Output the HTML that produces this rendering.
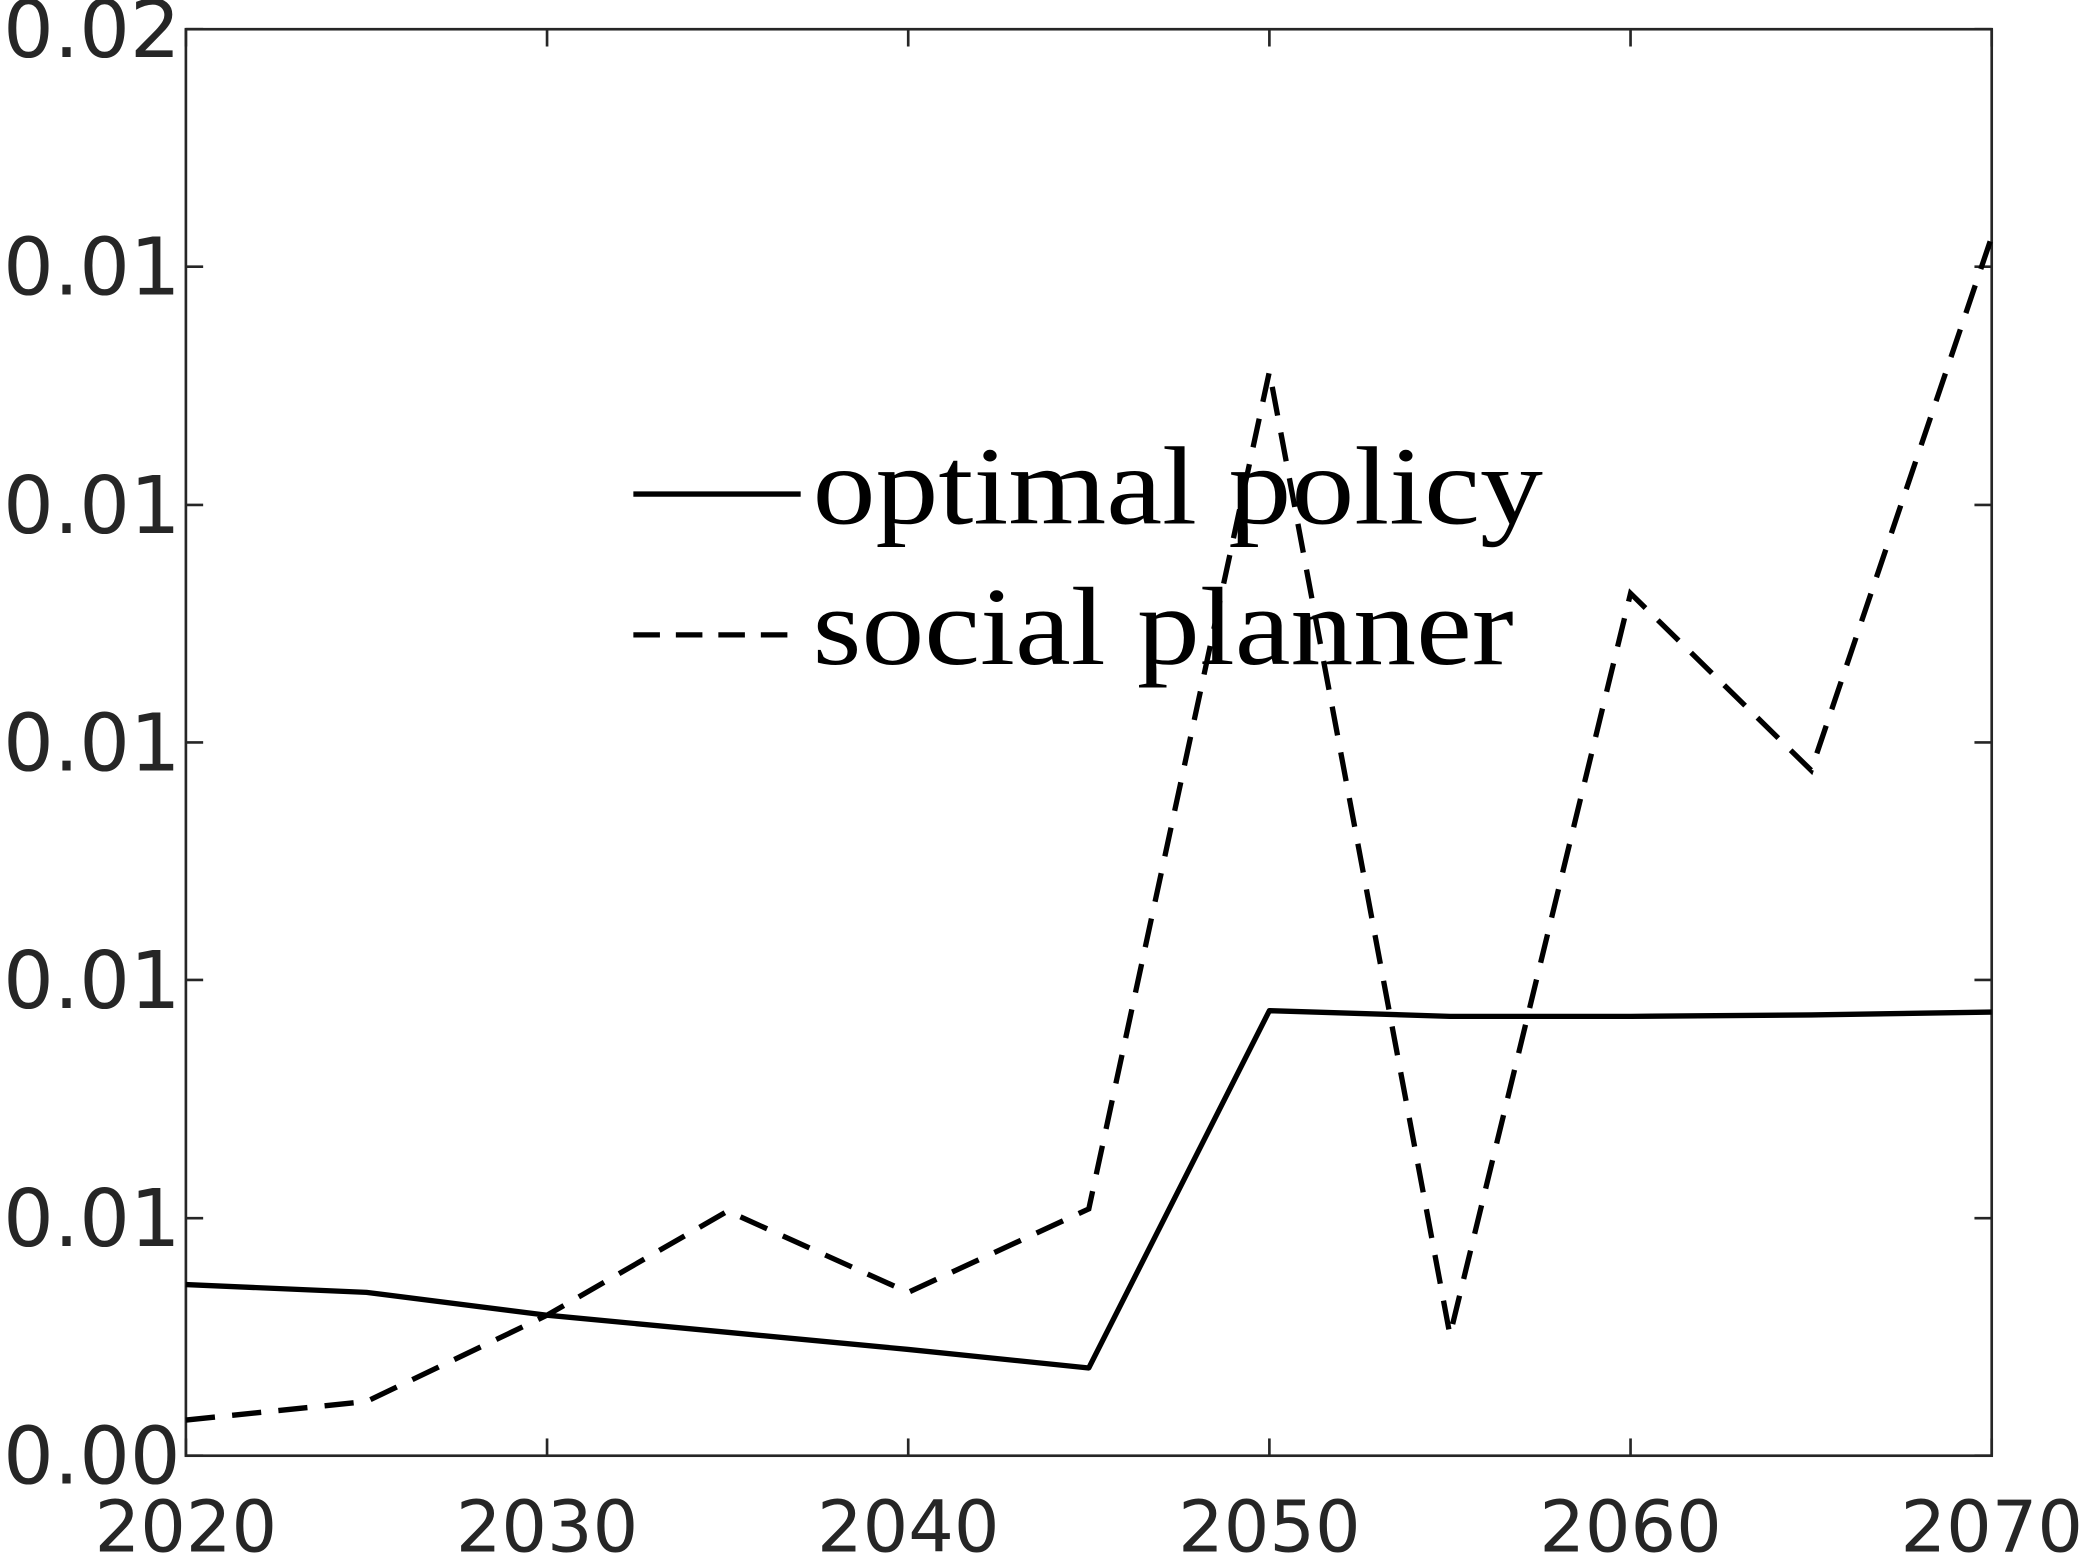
<!DOCTYPE html>
<html><head><meta charset="utf-8"><style>html,body{margin:0;padding:0;background:#fff}svg{display:block}</style></head>
<body>
<svg id="chart" width="2082" height="1554" viewBox="0 0 1568 1170" preserveAspectRatio="none" xmlns="http://www.w3.org/2000/svg">
<g id="axes"></g>
<g id="series"></g>
<g id="legend">
  <line x1="477" y1="372" x2="603" y2="372" stroke="#000" stroke-width="4"/>
  <text x="612" y="394" font-family="Liberation Serif, serif" font-size="84" textLength="550" lengthAdjust="spacingAndGlyphs">optimal policy</text>
  <line x1="477" y1="478" x2="603" y2="478" stroke="#000" stroke-width="4" stroke-dasharray="20,12"/>
  <text x="612" y="500" font-family="Liberation Serif, serif" font-size="84" textLength="528" lengthAdjust="spacingAndGlyphs">social planner</text>
</g>
</svg>
<script>
const years=[2020,2025,2030,2035,2040,2045,2050,2055,2060,2065,2070];
const optimalPolicy=[0.00240,0.00229,0.00197,0.00173,0.00149,0.00123,0.00624,0.00616,0.00616,0.00618,0.00622];
const socialPlanner=[0.0005,0.00076,0.00197,0.00343,0.00229,0.00346,0.0152,0.00169,0.01209,0.00961,0.01709];
const xTicks=[2020,2030,2040,2050,2060,2070];
const yTicks=[0,0.00333,0.00667,0.01,0.01333,0.01667,0.02];
const yTickLabels=["0.00","0.01","0.01","0.01","0.01","0.01","0.02"];
const L=140,R=1500,T=22,B=1096;
const xS=v=>L+(v-2020)/50*(R-L);
const yS=v=>B-v/0.02*(B-T);
const NS="http://www.w3.org/2000/svg";
const ax=document.getElementById('axes'),se=document.getElementById('series');
function mk(tag,attrs,parent){const e=document.createElementNS(NS,tag);for(const k in attrs)e.setAttribute(k,attrs[k]);parent.appendChild(e);return e;}
const frame=mk('rect',{x:L,y:T,width:R-L,height:B-T,fill:'none',stroke:'#262626','stroke-width':2},ax);


xTicks.forEach(t=>{
  const x=xS(t);
  const a=mk('line',{x1:x,y1:B,x2:x,y2:B-13,stroke:'#262626','stroke-width':2},ax);
  
  
  const b=mk('line',{x1:x,y1:T,x2:x,y2:T+13,stroke:'#262626','stroke-width':2},ax);
  
  
  const tx=mk('text',{x:x,y:1168,'text-anchor':'middle','font-family':'DejaVu Sans, sans-serif','font-size':54,fill:'#262626'},ax);
  tx.textContent=t;
  
  
});
yTicks.forEach((t,i)=>{
  const y=yS(t);
  const a=mk('line',{x1:L,y1:y,x2:L+13,y2:y,stroke:'#262626','stroke-width':2},ax);
  
  
  const b=mk('line',{x1:R,y1:y,x2:R-13,y2:y,stroke:'#262626','stroke-width':2},ax);
  
  
  const tx=mk('text',{x:136,y:y+21,'text-anchor':'end','font-family':'DejaVu Sans, sans-serif','font-size':60,fill:'#262626'},ax);
  tx.textContent=yTickLabels[i];
  
  
});
function pts(arr){return arr.map((v,i)=>xS(years[i])+','+yS(v)).join(' ');}
const l1=mk('polyline',{points:pts(optimalPolicy),fill:'none',stroke:'#000','stroke-width':4,'stroke-linejoin':'round'},se);


const l2=mk('polyline',{points:pts(socialPlanner),fill:'none',stroke:'#000','stroke-width':4,'stroke-dasharray':'22,13'},se);


</script>
</body></html>
